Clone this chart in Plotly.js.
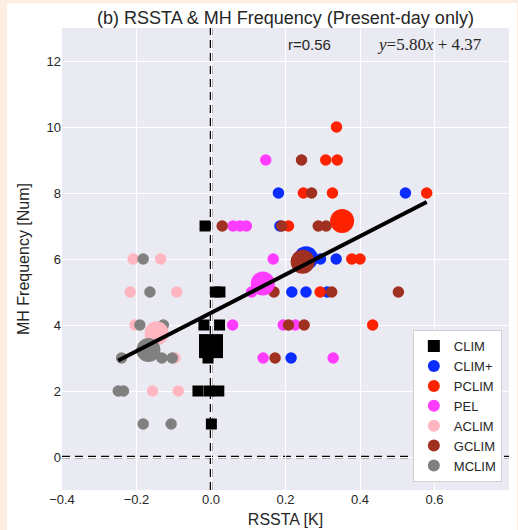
<!DOCTYPE html>
<html>
<head>
<meta charset="utf-8">
<script src="https://cdn.plot.ly/plotly-3.0.1.min.js"></script>
<style>
html,body{margin:0;padding:0;background:#fdeee3;width:518px;height:530px;overflow:hidden;}
#chart{position:absolute;left:7px;top:3px;width:510px;height:527px;background:#ffffff;}
</style>
</head>
<body>
<div id="chart"></div>
<script>
// ---- data ----
var groupNames = ["CLIM", "CLIM+", "PCLIM", "PEL", "ACLIM", "GCLIM", "MCLIM"];
var groupColors = ["#000000", "#0a2cff", "#ff2200", "#ff3cff", "#ffb6c1", "#a0301f", "#808080"];
var groupSymbols = ["square", "circle", "circle", "circle", "circle", "circle", "circle"];

// member points (RSSTA [K], MH frequency)
var climX  = [-0.016, 0.012, 0.024, -0.019, 0.023, -0.008, -0.035, -0.005, 0.021, 0.001];
var climY  = [7, 5, 5, 4, 4, 3, 2, 2, 2, 1];
var climPX = [0.181, 0.522, 0.185, 0.294, 0.336, 0.217, 0.255, 0.312, 0.215];
var climPY = [8, 8, 7, 6, 6, 5, 5, 5, 3];
var pclimX = [0.337, 0.308, 0.339, 0.248, 0.326, 0.579, 0.208, 0.378, 0.400, 0.293, 0.434];
var pclimY = [10, 9, 9, 8, 8, 8, 7, 6, 6, 5, 4];
var pelX   = [0.147, 0.059, 0.078, 0.095, 0.167, 0.109, 0.058, 0.194, 0.226, 0.140, 0.328];
var pelY   = [9, 7, 7, 7, 6, 5, 4, 4, 4, 3, 3];
var aclimX = [-0.209, -0.135, -0.217, -0.092, -0.204, -0.097, -0.157, -0.088];
var aclimY = [6, 6, 5, 5, 4, 3, 2, 2];
var gclimX = [0.243, 0.270, 0.030, 0.190, 0.288, 0.309, 0.169, 0.324, 0.503, 0.208, 0.250, 0.172];
var gclimY = [9, 8, 7, 7, 7, 7, 5, 5, 5, 4, 4, 3];
var mclimX = [-0.182, -0.164, -0.191, -0.128, -0.240, -0.132, -0.104, -0.249, -0.235, -0.182, -0.107];
var mclimY = [6, 5, 4, 4, 3, 3, 3, 2, 2, 1, 1];

// group means (large markers)
var meanX = [0.000, 0.255, 0.352, 0.139, -0.146, 0.246, -0.168];
var meanY = [3.36, 6.02, 7.15, 5.26, 3.75, 5.92, 3.24];

// regression
var fitSlope = 5.80;
var fitIntercept = 4.37;
var corrR = 0.56;

// axis ticks
var xTicks = [-0.4, -0.2, 0.0, 0.2, 0.4, 0.6, 0.8];
var xTickText = ["\u22120.4", "\u22120.2", "0.0", "0.2", "0.4", "0.6", "0.8"];
var yTicks = [0, 2, 4, 6, 8, 10, 12];

// ---- build traces ----
var memberX = [climX, climPX, pclimX, pelX, aclimX, gclimX, mclimX];
var memberY = [climY, climPY, pclimY, pelY, aclimY, gclimY, mclimY];
var traces = [];
for (var i = 0; i < groupNames.length; i++) {
  traces.push({
    type: "scatter", mode: "markers", name: groupNames[i],
    x: memberX[i], y: memberY[i],
    marker: {color: groupColors[i], symbol: groupSymbols[i], size: groupSymbols[i] === "square" ? 11 : 11.5, line: {width: 0}},
    hoverinfo: "x+y"
  });
}
for (var j = 0; j < groupNames.length; j++) {
  traces.push({
    type: "scatter", mode: "markers", name: groupNames[j] + " mean", showlegend: false,
    x: [meanX[j]], y: [meanY[j]],
    marker: {color: groupColors[j], symbol: groupSymbols[j], size: 24, line: {width: 0}}
  });
}
var allX = [].concat.apply([], memberX);
var xmin = Math.min.apply(null, allX), xmax = Math.max.apply(null, allX);
traces.push({
  type: "scatter", mode: "lines", showlegend: false, name: "fit",
  x: [xmin, xmax], y: [fitSlope * xmin + fitIntercept, fitSlope * xmax + fitIntercept],
  line: {color: "#000000", width: 4}
});

var fontFam = "Liberation Sans, Arial, sans-serif";
var layout = {
  width: 510, height: 527,
  margin: {l: 55, r: 8, t: 25, b: 40},
  paper_bgcolor: "#ffffff",
  plot_bgcolor: "#eaeaf2",
  font: {family: fontFam, size: 13, color: "#262626"},
  title: {
    text: "(b) RSSTA &amp; MH Frequency (Present-day only)",
    font: {family: fontFam, size: 18, color: "#262626"},
    x: 0.5, xref: "paper", y: 1 - 15 / 527, yref: "container", yanchor: "middle"
  },
  xaxis: {
    range: [-0.4, 0.8], tickvals: xTicks, ticktext: xTickText,
    showgrid: true, gridcolor: "#ffffff", gridwidth: 1, zeroline: false,
    showline: false, ticks: "", tickfont: {size: 13, color: "#262626"},
    title: {text: "RSSTA [K]", font: {size: 16, color: "#262626"}, standoff: 7}
  },
  yaxis: {
    range: [-1, 13], tickvals: yTicks,
    showgrid: true, gridcolor: "#ffffff", gridwidth: 1, zeroline: false,
    showline: false, ticks: "", tickfont: {size: 13, color: "#262626"},
    title: {text: "MH Frequency [Num]", font: {size: 16, color: "#262626"}, standoff: 12}
  },
  shapes: [
    {type: "line", xref: "x", yref: "paper", x0: 0, x1: 0, y0: 0, y1: 1, layer: "below",
     line: {color: "#000000", width: 2.5, dash: "8px,5px"}},
    {type: "line", xref: "paper", yref: "y", x0: 0, x1: 1, y0: 0, y1: 0, layer: "below",
     line: {color: "#000000", width: 2.5, dash: "8px,5px"}}
  ],
  annotations: [
    {xref: "x", yref: "y", x: 0.2, y: 12.5, xanchor: "left", yanchor: "middle", showarrow: false,
     text: "r=" + corrR.toFixed(2), font: {family: fontFam, size: 15, color: "#262626"}},
    {xref: "x", yref: "y", x: 0.44, y: 12.5, xanchor: "left", yanchor: "middle", showarrow: false,
     text: "<i>y</i>=" + fitSlope.toFixed(2) + "<i>x</i> + " + fitIntercept.toFixed(2),
     font: {family: "Liberation Serif, DejaVu Serif, serif", size: 17, color: "#262626"}}
  ],
  legend: {
    x: 0.984, y: 0.017, xanchor: "right", yanchor: "bottom",
    bgcolor: "#ffffff", bordercolor: "#d0d0d0", borderwidth: 1,
    font: {family: fontFam, size: 13, color: "#262626"},
    itemsizing: "constant", tracegroupgap: 0
  },
  showlegend: true
};

Plotly.newPlot("chart", traces, layout, {displayModeBar: false, staticPlot: true});
</script>
</body>
</html>
